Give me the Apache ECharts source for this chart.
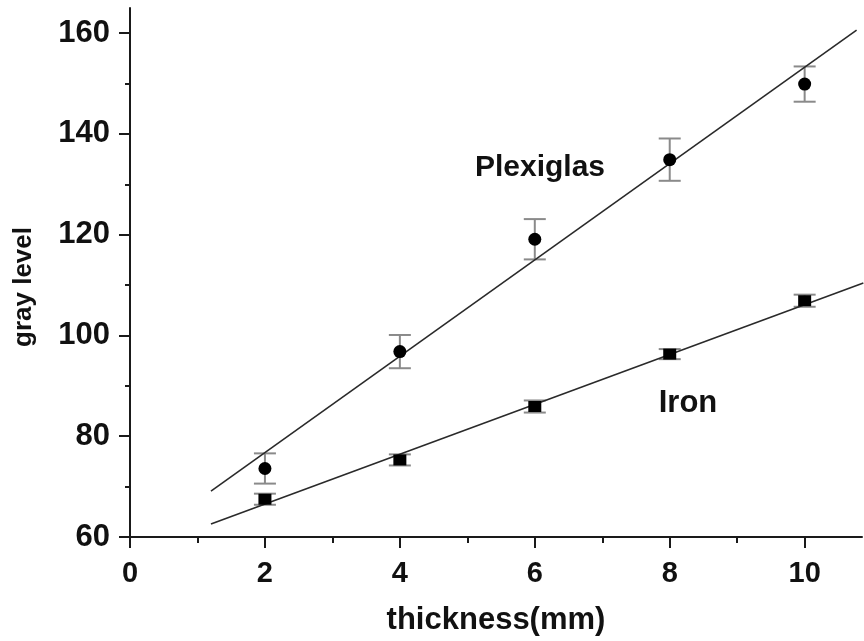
<!DOCTYPE html>
<html>
<head>
<meta charset="utf-8">
<script src="https://cdn.jsdelivr.net/npm/echarts@6/dist/echarts.min.js"></script>
<style>
html,body{margin:0;padding:0;background:#fff;}
#chart{width:864px;height:641px;}
</style>
</head>
<body>
<div id="chart"></div>
<script>
// ---- data ----
const thickness = [2, 4, 6, 8, 10];
const plexiglas = [73.6, 96.8, 119.1, 134.9, 149.9];
const plexiglasErr = [3.0, 3.3, 4.0, 4.2, 3.5];
const iron = [67.5, 75.3, 85.9, 96.3, 106.9];
const ironErr = [1.1, 1.1, 1.2, 1.0, 1.2];
const plexiglasFit = [[1.2, 69.1], [10.77, 160.6]];
const ironFit = [[1.2, 62.6], [10.87, 110.4]];
const xTicks = [0, 2, 4, 6, 8, 10];
const xMinorTicks = [1, 3, 5, 7, 9];
const yTicks = [60, 80, 100, 120, 140, 160];
const yMinorTicks = [70, 90, 110, 130, 150];
const labelPlexiglas = 'Plexiglas';
const labelIron = 'Iron';
const xTitle = 'thickness(mm)';
const yTitle = 'gray level';

const FONT = "'Liberation Sans', Arial, sans-serif";
const chart = echarts.init(document.getElementById('chart'));

function points(vals) { return thickness.map((t, i) => [t, vals[i]]); }
function errData(vals, errs) { return thickness.map((t, i) => [t, vals[i] - errs[i], vals[i] + errs[i]]); }

function errRender(params, api) {
  const x = api.value(0), lo = api.value(1), hi = api.value(2);
  const a = api.coord([x, hi]), b = api.coord([x, lo]);
  const hw = 11;
  const st = { stroke: '#8a8a8a', lineWidth: 2 };
  return {
    type: 'group',
    children: [
      { type: 'line', shape: { x1: a[0], y1: a[1], x2: b[0], y2: b[1] }, style: st },
      { type: 'line', shape: { x1: a[0] - hw, y1: a[1], x2: a[0] + hw, y2: a[1] }, style: st },
      { type: 'line', shape: { x1: b[0] - hw, y1: b[1], x2: b[0] + hw, y2: b[1] }, style: st }
    ]
  };
}

const axisLineStyle = { color: '#1a1a1a', width: 2 };

const option = {
  animation: false,
  backgroundColor: '#ffffff',
  grid: { left: 130, right: 2, top: 8, bottom: 104, containLabel: false },
  xAxis: [
    {
      type: 'value', min: 0, max: 10.85, interval: 2,
      axisLine: { show: true, onZero: false, lineStyle: axisLineStyle },
      axisTick: { show: true, length: 11, lineStyle: { color: '#1a1a1a', width: 2 }, customValues: xTicks },
      axisLabel: { customValues: xTicks, margin: 22, fontSize: 29, fontWeight: 'bold', fontFamily: FONT, color: '#111' },
      splitLine: { show: false },
      name: xTitle, nameLocation: 'middle', nameGap: 68,
      nameTextStyle: { fontSize: 31, fontWeight: 'bold', fontFamily: FONT, color: '#111' }
    },
    {
      type: 'value', min: 0, max: 10.85, position: 'bottom', offset: 0,
      axisLine: { show: false },
      axisTick: { show: true, length: 6, lineStyle: { color: '#1a1a1a', width: 2 }, customValues: xMinorTicks },
      axisLabel: { show: false },
      splitLine: { show: false }
    }
  ],
  yAxis: [
    {
      type: 'value', min: 60, max: 165, interval: 20,
      axisLine: { show: true, onZero: false, lineStyle: axisLineStyle },
      axisTick: { show: true, length: 11, lineStyle: { color: '#1a1a1a', width: 2 }, customValues: yTicks },
      axisLabel: { customValues: yTicks, margin: 20, fontSize: 31, fontWeight: 'bold', fontFamily: FONT, color: '#111' },
      splitLine: { show: false }
    },
    {
      type: 'value', min: 60, max: 165, position: 'left', offset: 0,
      axisLine: { show: false },
      axisTick: { show: true, length: 5, lineStyle: { color: '#1a1a1a', width: 2 }, customValues: yMinorTicks },
      axisLabel: { show: false },
      splitLine: { show: false }
    }
  ],
  graphic: [
    {
      type: 'text', x: 24, y: 287, rotation: Math.PI / 2,
      style: { text: yTitle, font: 'bold 26px ' + FONT, fill: '#111', align: 'center', verticalAlign: 'middle' }
    },
    {
      type: 'text', x: 540, y: 168,
      style: { text: labelPlexiglas, font: 'bold 30px ' + FONT, fill: '#111', align: 'center', verticalAlign: 'middle' }
    },
    {
      type: 'text', x: 688, y: 403,
      style: { text: labelIron, font: 'bold 31px ' + FONT, fill: '#111', align: 'center', verticalAlign: 'middle' }
    }
  ],
  series: [
    { type: 'custom', name: 'Plexiglas error', renderItem: errRender, data: errData(plexiglas, plexiglasErr), z: 2, encode: { x: 0, y: [1, 2] } },
    { type: 'custom', name: 'Iron error', renderItem: errRender, data: errData(iron, ironErr), z: 2, encode: { x: 0, y: [1, 2] } },
    { type: 'line', name: 'Plexiglas fit', data: plexiglasFit, symbol: 'none', lineStyle: { color: '#2a2a2a', width: 1.6 }, z: 3 },
    { type: 'line', name: 'Iron fit', data: ironFit, symbol: 'none', lineStyle: { color: '#2a2a2a', width: 1.6 }, z: 3 },
    { type: 'scatter', name: 'Plexiglas', data: points(plexiglas), symbol: 'circle', symbolSize: 13, itemStyle: { color: '#000', opacity: 1 }, z: 4 },
    { type: 'scatter', name: 'Iron', data: points(iron), symbol: 'rect', symbolSize: [13, 11], itemStyle: { color: '#000', opacity: 1 }, z: 4 }
  ]
};
chart.setOption(option);
</script>
</body>
</html>
